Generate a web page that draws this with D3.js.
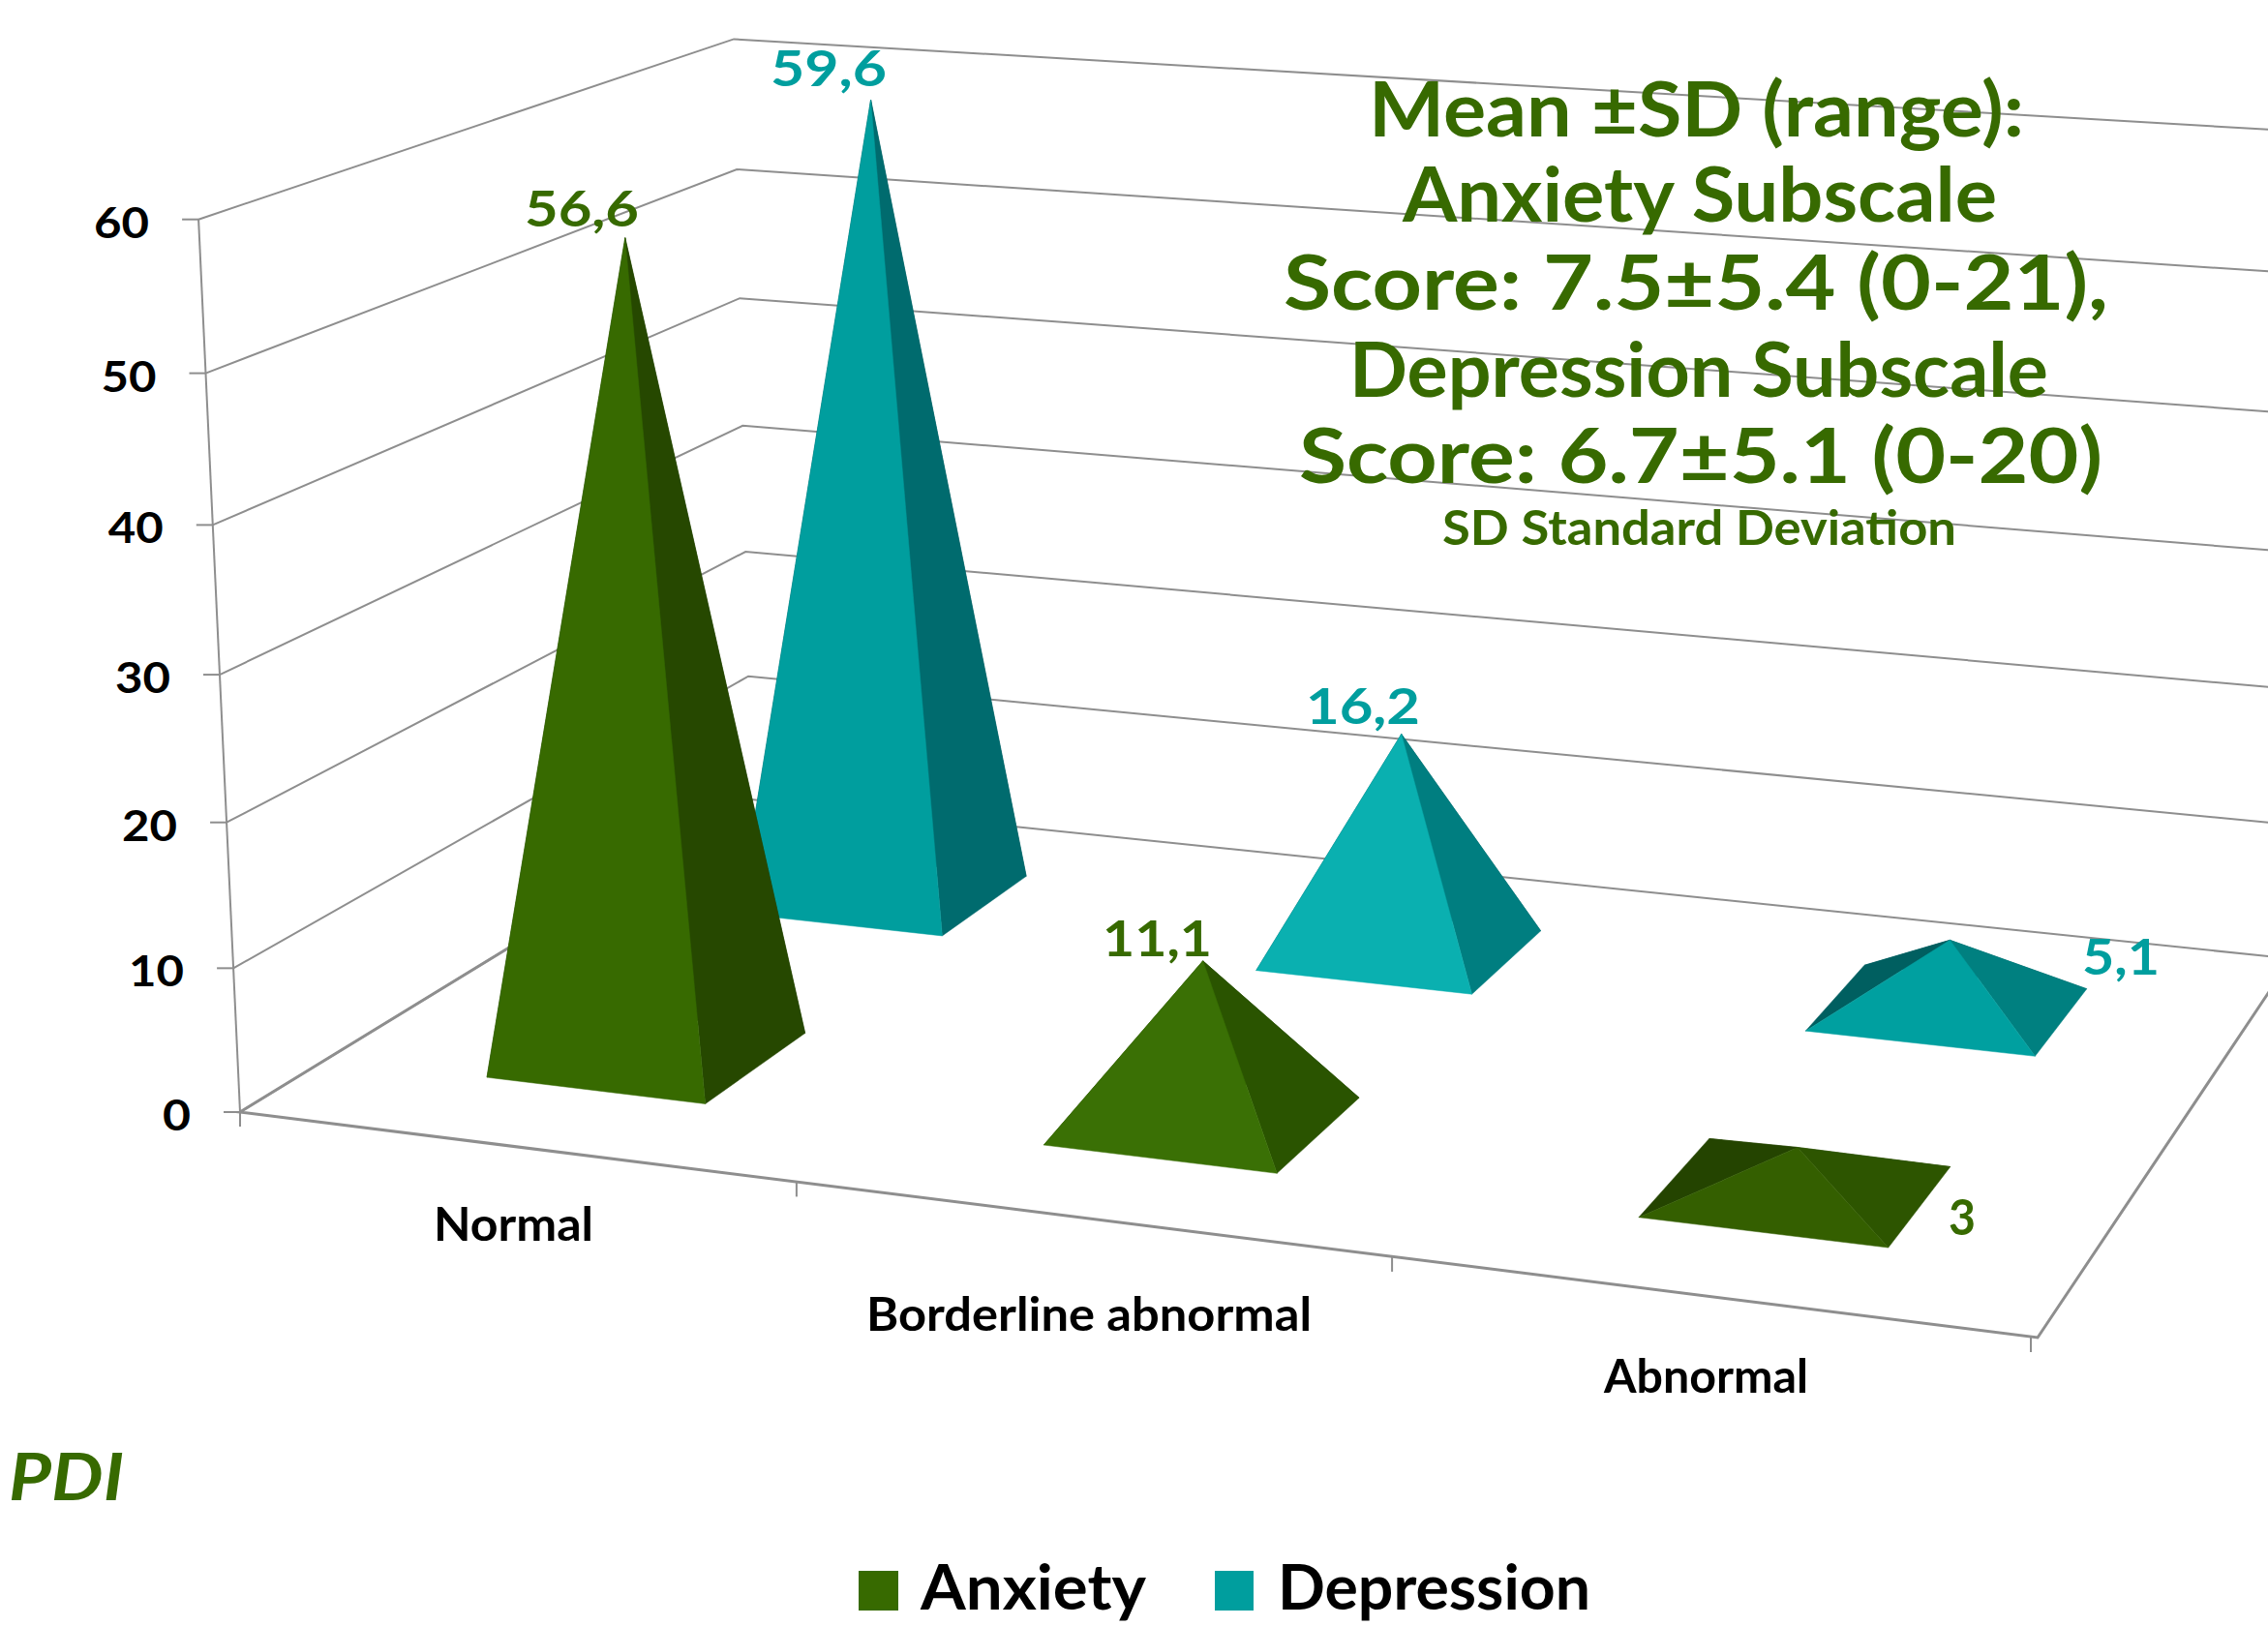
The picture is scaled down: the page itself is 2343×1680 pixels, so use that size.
<!DOCTYPE html>
<html><head><meta charset="utf-8"><script src="https://cdn.jsdelivr.net/npm/d3@7"></script>
<style>html,body{margin:0;background:#fff}svg{display:block}text{font-family:Lato,"Open Sans",sans-serif;font-weight:700}</style></head>
<body><svg id="c" width="2343" height="1680"></svg>
<script>
const categories=["Normal","Borderline abnormal","Abnormal"];
const seriesNames=["Anxiety","Depression"];
const anxiety=[56.6,11.1,3];
const depression=[59.6,16.2,5.1];
const anxietyLabels=["56,6","11,1","3"];
const depressionLabels=["59,6","16,2","5,1"];
const yTicks=[0,10,20,30,40,50,60];
const floorQuad={A:[248,1149],B:[2105,1382],D:[2367,990.5],C:[776,826]};
const topPts=[[0,0,205.4,232],[0,1,758,41],[1,1,2407,132]];
const q=floorQuad;
const sx=q.A[0]-q.B[0]+q.D[0]-q.C[0], sy=q.A[1]-q.B[1]+q.D[1]-q.C[1];
const dx1=q.B[0]-q.D[0],dx2=q.C[0]-q.D[0],dy1=q.B[1]-q.D[1],dy2=q.C[1]-q.D[1];
const den=dx1*dy2-dx2*dy1;
const g=(sx*dy2-dx2*sy)/den,h=(dx1*sy-sx*dy1)/den;
const a=q.B[0]-q.A[0]+g*q.B[0],b=q.C[0]-q.A[0]+h*q.C[0],c=q.A[0];
const d=q.B[1]-q.A[1]+g*q.B[1],e=q.C[1]-q.A[1]+h*q.C[1],f=q.A[1];
function solve3(M,v){const m=M.map((r,i)=>[...r,v[i]]);for(let i=0;i<3;i++){let p=i;for(let j=i+1;j<3;j++)if(Math.abs(m[j][i])>Math.abs(m[p][i]))p=j;[m[i],m[p]]=[m[p],m[i]];for(let j=0;j<3;j++)if(j!==i){const k=m[j][i]/m[i][i];for(let l=i;l<4;l++)m[j][l]-=k*m[i][l];}}return m.map((r,i)=>r[3]/r[i]);}
const rows=[],rhs=[];
topPts.forEach(([u,v,x,y])=>{const X=a*u+b*v+c,Y=d*u+e*v+f,W=g*u+h*v+1;rows.push([1,0,-x]);rhs.push(x*W-X);rows.push([0,1,-y]);rhs.push(y*W-Y);});
const AtA=[0,1,2].map(i=>[0,1,2].map(j=>d3.sum(rows,r=>r[i]*r[j])));
const Atb=[0,1,2].map(i=>d3.sum(rows,(r,k)=>r[i]*rhs[k]));
const [P,Q,R]=solve3(AtA,Atb);
const yScale=d3.scaleLinear().domain([0,60]).range([0,1]);
function project(u,v,val){const t=yScale(val),W=g*u+h*v+1+R*t;return [(a*u+b*v+c+P*t)/W,(d*u+e*v+f+Q*t)/W];}
const xBand=d3.scaleBand().domain(categories).range([-0.001,0.999]).paddingInner(0.6).paddingOuter(0.3);
const zBand=d3.scaleBand().domain(seriesNames).range([0,1]).paddingInner(0.6).paddingOuter(0.3);
const svg=d3.select("#c");
const green="#376a00",teal="#009e9e";
const lineGen=d3.line();
const grid=svg.append("g").attr("fill","none").attr("stroke","#8e8e8e").attr("stroke-width",2);
yTicks.forEach(t=>{grid.append("path").attr("d",lineGen([project(0,0,t),project(0,1,t),project(1,1,t)]));
 const p=project(0,0,t);grid.append("path").attr("d",lineGen([[p[0]-17,p[1]],p]));});
grid.append("path").attr("d",lineGen([project(0,0,0),project(0,0,60)]));
grid.append("path").attr("stroke-width",3).attr("d",lineGen([project(0,1,0),project(0,0,0),project(1,0,0),project(1,1,0)]));
d3.range(0,4).forEach(i=>{const p=project(i/3,0,0),off=7*i/3;grid.append("path").attr("d",lineGen([[p[0]-off,p[1]-1],[p[0]-off,p[1]+15]]));});
function fit(sel,w){return sel.attr("textLength",w).attr("lengthAdjust","spacingAndGlyphs");}
yTicks.forEach(t=>{const p=project(0,0,t);fit(svg.append("text").attr("x",p[0]-51).attr("y",p[1]+19).attr("text-anchor","end").attr("font-size",44).text(t),t?57:29);});
const palette={Anxiety:[["#244200","#264800","#376a00"],["#264800","#2a5400","#3a7005"],["#244400","#2d5500","#345f00"]],
 Depression:[["#00585a","#006b6e","#009e9e"],["#005f60","#007e80","#0ab0b0"],["#005f60","#008080","#00a0a0"]]};
function pyramid(sn,vals){categories.forEach((cat,i)=>{
 const u0=xBand(cat),u1=u0+xBand.bandwidth(),v0=zBand(sn),v1=v0+zBand.bandwidth();
 const FL=project(u0,v0,0),FR=project(u1,v0,0),BR=project(u1,v1,0),BL=project(u0,v1,0),T=project((u0+u1)/2,(v0+v1)/2,vals[i]);
 const pc=palette[sn][i];
 [[[BL,BR,T],pc[0]],[[FL,BL,T],pc[0]],[[FR,BR,T],pc[1]],[[FL,FR,T],pc[2]]].forEach(([pts,col])=>svg.append("path").attr("d",lineGen(pts)+"Z").attr("fill",col).attr("stroke",col).attr("stroke-width",0.5));
});}
pyramid("Depression",depression);pyramid("Anxiety",anxiety);
const titleLines=[["Mean ±SD (range):",1414,2091,141,78],["Anxiety Subscale",1449,2063,229,78],["Score: 7.5±5.4 (0-21),",1326,2178,320,78],["Depression Subscale",1394,2116,410,78],["Score: 6.7±5.1 (0-20)",1342,2172,499,78],["SD Standard Deviation",1490,2021,563,50]];
titleLines.forEach(([s,x0,x1,y,fs])=>fit(svg.append("text").attr("x",x0).attr("y",y).attr("font-size",fs).attr("fill",green).text(s),x1-x0));
[[anxietyLabels[0],542,660,234,green],[depressionLabels[0],796,916,89,teal],[depressionLabels[1],1349,1467,748,teal],[anxietyLabels[1],1139,1252,988,green],[depressionLabels[2],2151,2231,1007,teal],[anxietyLabels[2],2013,2041,1276,green]].forEach(([s,x0,x1,y,col])=>fit(svg.append("text").attr("x",x0).attr("y",y).attr("font-size",52).attr("fill",col).text(s),x1-x0));
[[categories[0],448,613,1282],[categories[1],895,1355,1375],[categories[2],1657,1868,1439]].forEach(([s,x0,x1,y])=>fit(svg.append("text").attr("x",x0).attr("y",y).attr("font-size",48).text(s),x1-x0));
fit(svg.append("text").attr("x",9).attr("y",1550).attr("font-size",66).attr("font-style","italic").attr("fill",green).text("PDI"),119);
[[887,928,green,seriesNames[0],951,1184],[1255,1295,teal,seriesNames[1],1320,1643]].forEach(([x0,x1,col,s,t0,t1])=>{svg.append("rect").attr("x",x0).attr("y",1623).attr("width",x1-x0).attr("height",41).attr("fill",col);fit(svg.append("text").attr("x",t0).attr("y",1663).attr("font-size",65).text(s),t1-t0);});
</script></body></html>
